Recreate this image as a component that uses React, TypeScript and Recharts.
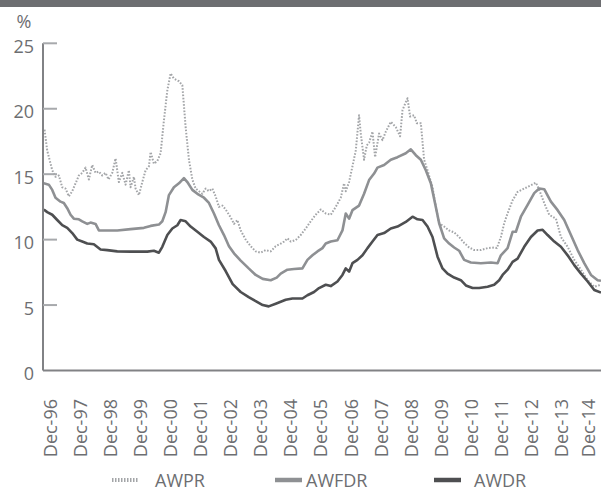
import React from 'react';
import { LineChart, Line, XAxis, YAxis, Legend } from 'recharts';

// x = months since Dec-96, y = per cent
const awpr: [number, number][] = [
  [-2.19, 18.4], [-1.12, 16.8], [0.88, 15.3], [2.19, 14.8], [3.51, 14.9], [4.87, 14.0], [6.18, 13.9],
  [7.5, 13.3], [8.86, 13.7], [10.17, 14.3], [11.49, 14.9], [12.84, 15.1], [14.16, 15.5], [15.48, 14.6],
  [16.83, 15.7], [18.15, 15.1], [19.47, 15.2], [20.82, 14.9], [22.14, 15.1], [23.34, 14.6], [24.81, 15.1],
  [26.13, 16.2], [27.44, 14.4], [28.8, 15.1], [30.12, 14.2], [31.43, 15.3], [32.11, 14.0], [33.43, 14.8],
  [34.1, 13.9], [35.42, 13.4], [36.78, 14.4], [38.09, 15.3], [39.41, 15.6], [40.09, 16.7], [41.4, 15.8],
  [42.76, 16.0], [44.08, 16.6], [45.39, 19.1], [46.75, 21.4], [48.07, 22.7], [49.38, 22.3], [51.38, 22.1],
  [52.73, 21.8], [54.05, 18.6], [55.37, 16.1], [56.72, 14.6], [58.04, 13.9], [59.35, 13.7], [60.71, 13.5],
  [62.03, 13.9], [63.34, 13.7], [64.7, 13.9], [66.02, 13.3], [67.33, 12.5], [68.69, 12.6], [70.0, 12.3],
  [72.0, 11.7], [73.32, 11.2], [74.67, 11.5], [75.99, 10.7], [77.98, 10.0], [79.98, 9.5], [81.97, 9.1],
  [83.97, 9.0], [85.96, 9.2], [87.96, 9.1], [89.95, 9.5], [91.94, 9.7], [93.26, 9.85], [94.62, 10.1],
  [95.93, 9.85], [97.93, 9.97], [99.92, 10.35], [101.92, 10.85], [103.91, 11.4], [105.9, 11.9],
  [107.9, 12.3], [109.89, 12.0], [111.89, 11.9], [113.88, 12.5], [115.88, 13.2], [117.19, 14.3],
  [117.87, 13.7], [119.19, 14.4], [120.54, 15.6], [121.86, 16.8], [123.17, 19.5], [123.85, 18.1],
  [125.17, 16.1], [126.25, 17.2], [127.16, 17.4], [128.52, 18.25], [129.56, 16.3], [131.15, 18.1],
  [132.51, 17.6], [133.83, 18.25], [135.82, 19.0], [137.81, 18.6], [139.53, 17.9], [140.49, 19.9],
  [142.48, 20.8], [143.52, 19.4], [145.11, 19.5], [146.19, 18.9], [147.79, 18.9], [149.1, 16.1],
  [150.46, 15.3], [152.45, 14.0], [153.77, 12.5], [155.09, 11.25], [157.08, 11.0], [159.08, 10.7],
  [161.07, 10.55], [163.06, 10.2], [165.06, 9.75], [167.05, 9.4], [169.05, 9.2], [171.72, 9.2],
  [174.39, 9.35], [177.03, 9.4], [178.1, 9.35], [179.7, 10.2], [181.01, 11.25], [182.37, 12.0],
  [184.36, 13.0], [186.36, 13.65], [188.99, 13.9], [191.66, 14.15], [193.66, 14.35], [194.97, 13.8],
  [196.97, 12.8], [198.96, 11.9], [201.64, 11.6], [203.63, 10.2], [206.3, 9.45], [208.94, 8.45],
  [211.61, 7.7], [214.28, 6.9], [216.91, 6.4], [219.59, 6.55],
];

const awfdr: [number, number][] = [
  [-2.47, 14.3], [-0.48, 14.2], [0.88, 13.8], [2.19, 13.2], [4.19, 12.9], [5.5, 12.8], [6.86, 12.4],
  [8.18, 11.9], [9.49, 11.6], [11.49, 11.55], [12.84, 11.4], [14.84, 11.2], [16.15, 11.3], [18.15, 11.2],
  [19.47, 10.7], [21.46, 10.7], [26.8, 10.7], [32.11, 10.8], [37.42, 10.9], [40.09, 11.05], [43.4, 11.15],
  [44.75, 11.4], [46.07, 12.1], [47.39, 13.4], [49.38, 14.0], [51.38, 14.3], [53.37, 14.7], [54.73, 14.4],
  [56.72, 13.8], [58.72, 13.5], [61.35, 13.2], [63.34, 12.8], [65.34, 12.0], [67.33, 11.1], [69.33, 10.35],
  [71.32, 9.5], [73.32, 8.95], [75.99, 8.4], [79.18, 7.8], [81.97, 7.3], [84.76, 7.0], [87.96, 6.9],
  [90.35, 7.1], [91.94, 7.4], [94.62, 7.7], [97.25, 7.75], [100.6, 7.8], [102.59, 8.45], [104.59, 8.8],
  [106.58, 9.1], [108.58, 9.35], [109.89, 9.7], [111.89, 9.85], [114.56, 9.95], [116.55, 10.7],
  [117.87, 12.0], [119.19, 11.6], [120.54, 12.25], [123.17, 12.6], [125.17, 13.5], [127.16, 14.55],
  [129.16, 15.05], [130.51, 15.5], [133.15, 15.7], [135.82, 16.1], [138.49, 16.3], [141.8, 16.6],
  [143.8, 16.9], [145.79, 16.45], [147.79, 16.1], [149.78, 15.3], [151.78, 14.3], [153.77, 12.5],
  [155.09, 11.25], [157.08, 10.1], [159.08, 9.7], [161.07, 9.4], [163.06, 9.15], [165.06, 8.45],
  [167.73, 8.25], [171.72, 8.2], [175.71, 8.25], [178.38, 8.2], [179.7, 8.8], [182.37, 9.35],
  [184.36, 10.6], [185.68, 10.6], [187.67, 11.75], [190.35, 12.65], [192.98, 13.55], [194.97, 13.9],
  [196.97, 13.85], [199.64, 12.9], [202.31, 12.25], [204.95, 11.5], [207.62, 10.35], [210.29, 9.2],
  [212.92, 8.2], [215.6, 7.3], [218.27, 6.9], [219.59, 6.85],
];

const awdr: [number, number][] = [
  [-2.47, 12.3], [-1.12, 12.1], [0.88, 11.9], [2.87, 11.5], [4.87, 11.1], [6.86, 10.9], [8.86, 10.5],
  [10.85, 10.0], [12.84, 9.85], [14.84, 9.7], [17.47, 9.65], [20.14, 9.25], [22.82, 9.2], [26.8, 9.1],
  [32.11, 9.08], [38.77, 9.08], [41.4, 9.15], [43.4, 9.0], [44.75, 9.45], [46.75, 10.35], [48.74, 10.85],
  [50.74, 11.1], [52.05, 11.5], [54.05, 11.4], [56.04, 11.0], [58.72, 10.6], [61.35, 10.2], [64.02, 9.85],
  [66.02, 9.33], [67.33, 8.45], [70.0, 7.6], [72.8, 6.6], [75.99, 6.0], [79.18, 5.6], [81.97, 5.3],
  [84.76, 5.0], [87.15, 4.9], [89.95, 5.1], [91.94, 5.25], [93.94, 5.4], [96.61, 5.5], [100.6, 5.5],
  [102.59, 5.75], [105.23, 6.0], [107.22, 6.3], [109.89, 6.55], [111.89, 6.45], [114.56, 6.8],
  [116.55, 7.3], [117.87, 7.8], [119.19, 7.55], [120.54, 8.2], [122.54, 8.45], [124.53, 8.8],
  [126.53, 9.35], [128.52, 9.85], [130.51, 10.35], [133.15, 10.5], [135.82, 10.85], [138.49, 11.0],
  [141.8, 11.35], [144.48, 11.75], [146.47, 11.55], [148.47, 11.5], [150.46, 11.0], [152.45, 10.2],
  [154.45, 8.7], [156.44, 7.8], [158.44, 7.4], [161.07, 7.1], [163.74, 6.9], [165.74, 6.5], [168.41, 6.3],
  [171.04, 6.3], [174.39, 6.4], [177.03, 6.55], [179.02, 6.9], [180.38, 7.3], [182.37, 7.7], [184.36, 8.3],
  [186.36, 8.55], [188.99, 9.45], [191.66, 10.2], [194.34, 10.7], [196.33, 10.75], [198.32, 10.35],
  [200.98, 9.85], [203.63, 9.45], [206.3, 8.8], [208.94, 8.05], [211.61, 7.4], [214.28, 6.8],
  [216.91, 6.15], [219.59, 5.95],
];

const tickLabels = [
  'Dec-96', 'Dec-97', 'Dec-98', 'Dec-99', 'Dec-00', 'Dec-01', 'Dec-02', 'Dec-03', 'Dec-04', 'Dec-05',
  'Dec-06', 'Dec-07', 'Dec-08', 'Dec-09', 'Dec-10', 'Dec-11', 'Dec-12', 'Dec-13', 'Dec-14',
];
const yTicks = [0, 5, 10, 15, 20, 25];

const FONT = '"Open Sans", "Noto Sans", sans-serif';
const TEXT = '#6d6e71';
const AXIS = '#818285';

const series = [
  { key: 'AWPR', data: awpr, color: '#a3a5a8', width: 2, dash: '1.6 1.6' },
  { key: 'AWFDR', data: awfdr, color: '#8e9093', width: 2.6, dash: undefined },
  { key: 'AWDR', data: awdr, color: '#4e4f51', width: 2.6, dash: undefined },
];

const toRows = (d: [number, number][]) => d.map(([t, v]) => ({ t, v }));

const XTick = (props: any) => {
  const { x, y, payload } = props;
  const idx = Math.round(payload.value / 12);
  const bx = Math.min(x + 6.5, 595.3);
  return (
    <text
      transform={`translate(${bx}, ${y + 28.5}) rotate(-90)`}
      textAnchor="end"
      fontFamily={FONT}
      fontSize={18}
      fill={TEXT}
    >
      {tickLabels[idx]}
    </text>
  );
};

const YTick = (props: any) => {
  const { x, y, payload } = props;
  return (
    <g>
      {payload.value !== 0 && (
        <line x1={x} x2={x + 14} y1={y} y2={y} stroke="#a7a9ac" strokeWidth={2} />
      )}
      <text x={x - 9} y={y + 9.5} textAnchor="end" fontFamily={FONT} fontSize={18} fill={TEXT}>
        {payload.value}
      </text>
    </g>
  );
};

const LegendContent = () => {
  const items = [
    { s: series[0], x1: 112, tx: 155 },
    { s: series[1], x1: 275, tx: 306 },
    { s: series[2], x1: 434, tx: 474 },
  ];
  return (
    <svg width={601} height={24} style={{ display: 'block' }}>
      {items.map(({ s, x1, tx }) => (
        <g key={s.key}>
          <line
            x1={x1}
            x2={x1 + 27}
            y1={11}
            y2={11}
            stroke={s.color}
            strokeWidth={s.dash ? 4 : 4.5}
            strokeDasharray={s.dash ? '1.5 1.5' : undefined}
          />
          <text x={tx} y={17.5} fontFamily={FONT} fontSize={18} fill={TEXT}>
            {s.key}
          </text>
        </g>
      ))}
    </svg>
  );
};

export default function App() {
  return (
    <div style={{ position: 'absolute', left: 0, top: 0, width: 601, height: 493, overflow: 'hidden', background: '#fff' }}>
      <div style={{ position: 'absolute', left: 0, top: 0, width: 601, height: 7, background: '#6d6e71' }} />
      <div style={{ position: 'absolute', left: 0, top: 0 }}>
        <LineChart width={601} height={493} margin={{ top: 43.3, right: 0, left: 0, bottom: 82.5 }}>
          <XAxis
            type="number"
            dataKey="t"
            domain={[-2.8, 219.6]}
            ticks={tickLabels.map((_, i) => i * 12)}
            interval={0}
            allowDataOverflow
            height={40}
            tickSize={0}
            tickMargin={0}
            tickLine={false}
            axisLine={{ stroke: AXIS, strokeWidth: 2 }}
            tick={<XTick />}
          />
          <YAxis
            type="number"
            domain={[0, 25]}
            ticks={yTicks}
            interval={0}
            width={43}
            tickSize={0}
            tickMargin={0}
            tickLine={false}
            axisLine={{ stroke: AXIS, strokeWidth: 2 }}
            tick={<YTick />}
            label={{
              content: (p: any) => (
                <text x={24} y={28} textAnchor="middle" fontFamily={FONT} fontSize={18} fill={TEXT}>
                  %
                </text>
              ),
            }}
          />
          <Legend
            layout="horizontal"
            verticalAlign="middle"
            align="center"
            wrapperStyle={{ top: 469, left: 0, width: 601, height: 24 }}
            content={<LegendContent />}
          />
          {series.map((s) => (
            <Line
              key={s.key}
              data={toRows(s.data)}
              dataKey="v"
              name={s.key}
              type="linear"
              stroke={s.color}
              strokeWidth={s.width}
              strokeDasharray={s.dash}
              strokeLinejoin="round"
              dot={false}
              activeDot={false}
              isAnimationActive={false}
            />
          ))}
        </LineChart>
      </div>
    </div>
  );
}
